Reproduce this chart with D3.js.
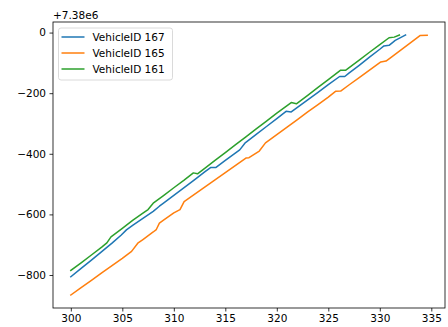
<!DOCTYPE html>
<html>
<head>
<meta charset="utf-8">
<script src="https://cdn.jsdelivr.net/npm/d3@7"></script>
<style>
  body { margin: 0; background: #fff; }
  svg { display: block; font-family: "DejaVu Sans", sans-serif; }
</style>
</head>
<body>
<div class="chart"></div>
<script>
// values are relative to the +7.38e6 offset
var names = ["VehicleID 167", "VehicleID 165", "VehicleID 161"];
var colors = ["#1f77b4", "#ff7f0e", "#2ca02c"];

var x167 = [300, 301, 302, 303, 304, 304.9, 305.4, 306, 307, 308, 308.6, 309, 310, 311, 312, 313, 313.6, 314.1, 315, 316, 316.4, 316.9, 318, 319, 320, 320.9, 321.4, 322, 323, 324, 325, 326.1, 326.6, 327, 328, 329, 330, 330.4, 330.9, 331.5, 332.5];
var y167 = [-806, -778, -751, -723, -695, -668, -651, -636, -613, -590, -573, -563, -537, -512, -486, -460, -445, -445, -422, -397, -387, -365, -336, -310, -284, -260, -262, -247, -222, -197, -172, -145, -145, -134, -108, -81, -55, -44, -42, -26, -8];

var x165 = [300, 301, 302, 303, 304, 305, 305.9, 306.5, 307, 308, 308.3, 308.6, 309, 310, 310.6, 311, 312, 313, 314, 315, 316, 317, 317.3, 318.3, 318.9, 320, 321, 322, 323, 324, 325, 325.7, 326.2, 327, 328, 329, 330.1, 330.6, 331, 332, 333, 333.9, 334.6];
var y165 = [-866, -842, -818, -793, -769, -745, -722, -695, -683, -658, -650, -629, -619, -595, -584, -558, -534, -510, -486, -462, -438, -414, -413, -391, -364, -337, -312, -287, -262, -238, -213, -194, -193, -173, -149, -124, -97, -94, -84, -59, -33, -10, -9];

var x161 = [300, 301, 302, 303, 303.5, 303.9, 305, 306, 307, 307.5, 308, 309, 310, 311, 311.9, 312.3, 313, 314, 315, 316, 317, 318, 319, 320, 321, 321.4, 321.9, 323, 324, 325, 326.2, 326.7, 328, 329, 330, 330.9, 331.4, 331.9];
var y161 = [-785, -760, -734, -708, -694, -674, -646, -620, -596, -584, -563, -538, -512, -487, -463, -466, -448, -422, -396, -370, -344, -318, -292, -266, -241, -231, -235, -207, -181, -155, -124, -124, -91, -65, -40, -17, -15, -8];

var xTicks = [300, 305, 310, 315, 320, 325, 330, 335];
var yTicks = [0, -200, -400, -600, -800];
var offsetLabel = "+7.38e6";

var series = [
  {name: names[0], color: colors[0], xs: x167, ys: y167},
  {name: names[1], color: colors[1], xs: x165, ys: y165},
  {name: names[2], color: colors[2], xs: x161, ys: y161}
];

var W = 448, H = 327;
var margin = {top: 22, right: 3, bottom: 19, left: 53},
    width = W - margin.left - margin.right,
    height = H - margin.top - margin.bottom;
var fs = "10.5px";

var svg = d3.select(".chart").append("svg")
    .attr("width", W)
    .attr("height", H);

var allX = d3.merge(series.map(function(s) { return s.xs; })),
    allY = d3.merge(series.map(function(s) { return s.ys; }));
var xmin = d3.min(allX), xmax = d3.max(allX),
    ymin = d3.min(allY), ymax = d3.max(allY);
var xpad = (xmax - xmin) * 0.05, ypad = (ymax - ymin) * 0.05;

var x = d3.scaleLinear().domain([xmin - xpad, xmax + xpad]).range([0, width]),
    y = d3.scaleLinear().domain([ymin - ypad, ymax + ypad]).range([height, 0]);

var g = svg.append("g")
    .attr("transform", "translate(" + margin.left + "," + margin.top + ")");

var fmt = function(d) { return String(d).replace("-", "\u2212"); };

var xAxis = g.append("g")
    .attr("transform", "translate(0," + height + ")")
    .call(d3.axisBottom(x).tickValues(xTicks).tickFormat(fmt).tickSize(3.5).tickPadding(3.5));
var yAxis = g.append("g")
    .call(d3.axisLeft(y).tickValues(yTicks).tickFormat(fmt).tickSize(3.5).tickPadding(3.5));

[xAxis, yAxis].forEach(function(a) {
  a.select(".domain").remove();
  a.selectAll("line").attr("stroke", "#000").attr("stroke-width", 0.8);
  a.selectAll("text").attr("fill", "#000")
    .style("font-size", fs).style("font-family", "DejaVu Sans");
});

var line = d3.line()
    .x(function(d) { return x(d[0]); })
    .y(function(d) { return y(d[1]); });

series.forEach(function(s) {
  g.append("path")
    .datum(d3.zip(s.xs, s.ys))
    .attr("fill", "none")
    .attr("stroke", s.color)
    .attr("stroke-width", 1.5)
    .attr("stroke-linejoin", "round")
    .attr("stroke-linecap", "square")
    .attr("d", line);
});

// frame
g.append("rect")
    .attr("width", width)
    .attr("height", height)
    .attr("fill", "none")
    .attr("stroke", "#000")
    .attr("stroke-width", 0.8);

// offset text
svg.append("text")
    .attr("x", margin.left)
    .attr("y", 19)
    .style("font-size", fs)
    .text(offsetLabel);

// legend
var leg = g.append("g").attr("transform", "translate(5.5,6)");
leg.append("rect")
    .attr("width", 114)
    .attr("height", 52)
    .attr("rx", 2.5)
    .attr("fill", "#fff")
    .attr("fill-opacity", 0.8)
    .attr("stroke", "#d0d0d0")
    .attr("stroke-width", 0.8);
series.forEach(function(s, i) {
  var row = leg.append("g").attr("transform", "translate(0," + (9 + i * 16) + ")");
  row.append("line")
    .attr("x1", 3).attr("x2", 26)
    .attr("stroke", s.color).attr("stroke-width", 1.5);
  row.append("text")
    .attr("x", 34).attr("dy", "0.35em")
    .style("font-size", fs)
    .text(s.name);
});
</script>
</body>
</html>
